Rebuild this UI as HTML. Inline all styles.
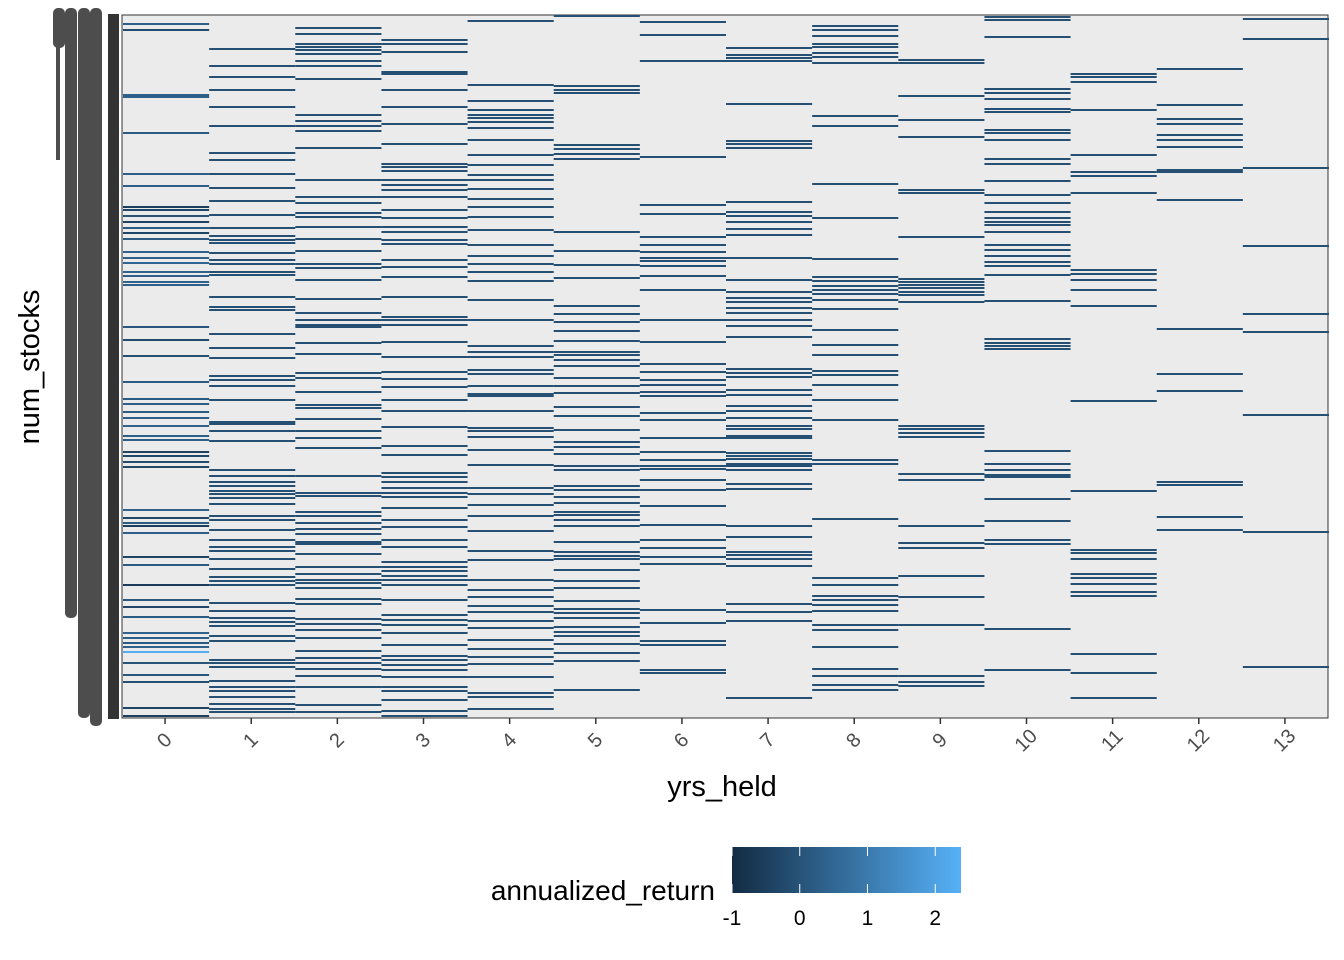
<!DOCTYPE html>
<html><head><meta charset="utf-8"><style>
body{margin:0;background:#fff;}
svg{display:block;font-family:"Liberation Sans",sans-serif;}
</style></head><body>
<svg width="1344" height="960" id="chart">
<rect x="122" y="15" width="1206" height="703" fill="#ebebeb" stroke="#333" stroke-width="1"/>
<g id="cells"></g>
<g fill="#4d4d4d">
<rect x="53" y="8" width="12" height="40" rx="5"/><rect x="56" y="40" width="4" height="120"/>
<rect x="65" y="8" width="12" height="610" rx="5"/>
<rect x="78" y="8" width="12" height="710" rx="5"/>
<rect x="90" y="8" width="12" height="718" rx="5"/>
<text x="100" y="722" font-size="8" text-anchor="end">2</text>
</g>
<rect x="108" y="14" width="11" height="705" fill="#333"/>
<g id="xaxis"></g>
<text x="722" y="796" font-size="29" text-anchor="middle" fill="#000">yrs_held</text>
<text transform="translate(39,367) rotate(-90)" font-size="29" text-anchor="middle" fill="#000">num_stocks</text>
<defs><linearGradient id="grad" x1="0" x2="1"><stop offset="0" stop-color="#132B43"/><stop offset="1" stop-color="#56B1F7"/></linearGradient></defs>
<text x="715" y="900" font-size="28" text-anchor="end" fill="#000">annualized_return</text>
<rect x="732" y="847" width="229" height="46" fill="url(#grad)"/>
<g id="legend"></g>
</svg>
<script>
const categories=[0,1,2,3,4,5,6,7,8,9,10,11,12,13];
const legendTicks=[-1,0,1,2];
const rows0=[24,30,95,97,133,174,186,207,210,216,222,228,233,239,252,258,263,272,276,282,285,327,340,356,382,399,404,412,418,426,436,440,452,456,462,467,510,518,523,526,533,557,565,585,600,607,617,633,638,643,647,652,663,675,682,708,716];
const rows1=[49,66,77,90,107,126,153,160,174,188,201,215,228,236,240,243,253,260,264,272,275,297,307,310,334,348,358,376,380,386,400,422,424,431,441,470,476,482,486,491,494,498,504,516,520,530,540,547,551,559,569,577,581,585,603,611,618,622,626,636,641,660,663,667,681,687,691,697,704,709,712];
const rows2=[28,34,44,47,50,54,61,66,79,115,121,126,131,148,180,197,203,213,217,227,239,251,264,268,280,299,313,320,325,327,343,354,373,378,392,405,408,419,431,438,448,476,493,496,512,516,523,529,534,542,544,554,567,574,580,583,588,599,604,619,624,630,638,651,658,663,669,676,687,705,712];
const rows3=[40,44,52,72,74,90,107,124,144,164,167,171,180,185,190,197,210,218,227,232,240,244,260,267,277,297,317,320,325,342,357,372,379,387,400,411,427,446,455,473,477,482,488,493,497,508,520,527,540,547,562,567,571,576,580,585,600,615,620,625,633,645,656,660,665,670,677,687,691,700,711,716];
const rows4=[21,85,101,110,115,118,122,128,140,155,165,175,180,189,199,207,217,230,245,256,264,272,281,300,320,346,352,357,370,374,386,394,396,411,428,431,437,450,465,488,494,505,516,531,551,560,580,590,597,606,612,621,628,640,649,657,664,677,693,697,709];
const rows5=[16,86,90,93,145,149,154,159,232,251,265,278,306,314,322,331,341,352,355,360,366,378,386,393,407,416,430,442,447,454,466,470,486,490,497,503,512,515,520,526,542,552,556,559,570,581,588,601,609,613,618,627,632,636,644,653,661,690];
const rows6=[22,35,61,157,205,214,237,245,252,258,261,266,276,290,320,342,364,372,380,385,392,396,413,420,438,452,460,466,469,480,490,506,525,540,548,557,564,610,623,641,645,670,673];
const rows7=[48,55,58,61,104,141,144,148,202,212,216,222,229,235,258,280,292,298,302,308,313,320,326,337,369,373,377,390,395,406,411,418,426,429,436,438,453,456,459,464,466,470,484,489,526,537,552,555,559,566,604,612,621,698];
const rows8=[26,30,36,44,47,53,57,63,116,126,184,218,259,277,281,286,290,294,300,309,330,345,355,371,375,385,400,420,460,464,519,578,585,596,600,605,611,625,630,647,669,676,685,690];
const rows9=[60,63,96,120,137,190,193,237,279,282,285,288,292,295,302,426,429,433,437,474,480,526,543,548,576,597,625,676,682,686];
const rows10=[17,20,37,89,93,99,109,112,130,133,140,159,164,181,195,203,212,218,222,225,232,245,250,256,262,266,275,301,339,343,346,349,451,464,470,475,477,499,521,540,544,629,670];
const rows11=[74,77,82,110,155,172,176,193,270,274,280,290,306,401,491,550,553,559,574,578,584,592,596,654,673,698];
const rows12=[69,105,119,124,135,140,147,170,172,200,329,374,391,482,485,517,530];
const rows13=[19,39,168,246,314,332,415,532,667];
const allRows=[rows0,rows1,rows2,rows3,rows4,rows5,rows6,rows7,rows8,rows9,rows10,rows11,rows12,rows13];
const baseValue=-0.1;
const vals0=[0.3,-0.2,0.3,0.3,0.2,0.3,0.3,-0.5,-0.3,0,-0.4,0.2,-0.3,0.2,0.4,0.3,0.5,0.4,0.3,0.4,0.3,0.1,-0.2,-0.1,0.2,0.2,0.3,0.2,0.3,0.4,0.3,0.3,-0.4,-0.3,-0.2,-0.3,0.4,-0.3,0.2,-0.5,0.3,-0.4,0.2,-0.6,0.1,-0.3,0.2,0.4,0.3,0.2,0.4,2.3,0,0.1,-0.1,-0.4,-0.5];
const vals1=[];const vals2=[];const vals3=[];const vals4=[];const vals5=[];const vals6=[];
const vals7=[];const vals8=[];const vals9=[];const vals10=[];const vals11=[];const vals12=[];const vals13=[];
const allVals=[vals0,vals1,vals2,vals3,vals4,vals5,vals6,vals7,vals8,vals9,vals10,vals11,vals12,vals13];
const rowMin=15,rowMax=718;
const px0=122,pw=1206,py0=15,ph=703;
const colW=pw/categories.length;
const xScale=c=>px0+categories.indexOf(c)*colW;
const yScale=r=>py0+(r-rowMin)/(rowMax-rowMin)*ph;
const vmin=-1,vmax=2.38;
function color(v){const t=Math.max(0,Math.min(1,(v-vmin)/(vmax-vmin)));
 const a=[19,43,67],b=[86,177,247];return `rgb(${a.map((x,i)=>Math.round(x+(b[i]-x)*t)).join(',')})`;}
const NS='http://www.w3.org/2000/svg';
const g=document.getElementById('cells');
categories.forEach((c,ci)=>{
 allRows[ci].forEach((r,ri)=>{
  const v=allVals[ci][ri]!==undefined?allVals[ci][ri]:baseValue;
  const el=document.createElementNS(NS,'rect');
  el.setAttribute('x',xScale(c)+1);el.setAttribute('y',yScale(r)-1);
  el.setAttribute('width',colW);el.setAttribute('height',2);
  el.setAttribute('fill',color(v));
  
  
  g.appendChild(el);
 });
});
const xa=document.getElementById('xaxis');
categories.forEach(c=>{
 const cx=xScale(c)+colW/2;
 const t=document.createElementNS(NS,'line');
 t.setAttribute('x1',cx);t.setAttribute('x2',cx);t.setAttribute('y1',718);t.setAttribute('y2',724);
 t.setAttribute('stroke','#333');t.setAttribute('stroke-width','1.5');
 
 
 xa.appendChild(t);
 const l=document.createElementNS(NS,'text');
 l.setAttribute('transform',`translate(${cx+4},${745}) rotate(-45)`);
 l.setAttribute('text-anchor','middle');l.setAttribute('font-size','20');l.setAttribute('fill','#4d4d4d');
 l.textContent=c;
 
 
 xa.appendChild(l);
});
const lg=document.getElementById('legend');
legendTicks.forEach(v=>{
 const x=732+(v-vmin)/(vmax-vmin)*229;
 [[847,856],[884,893]].forEach(([a,b])=>{
  const t=document.createElementNS(NS,'line');
  t.setAttribute('x1',x);t.setAttribute('x2',x);t.setAttribute('y1',a);t.setAttribute('y2',b);
  t.setAttribute('stroke','#fff');t.setAttribute('stroke-width','1');
  
  
  lg.appendChild(t);
 });
 const l=document.createElementNS(NS,'text');
 l.setAttribute('x',x);l.setAttribute('y',925);l.setAttribute('text-anchor','middle');
 l.setAttribute('font-size','21');l.setAttribute('fill','#000');l.textContent=v;
 
 
 lg.appendChild(l);
});
</script>
</body></html>
